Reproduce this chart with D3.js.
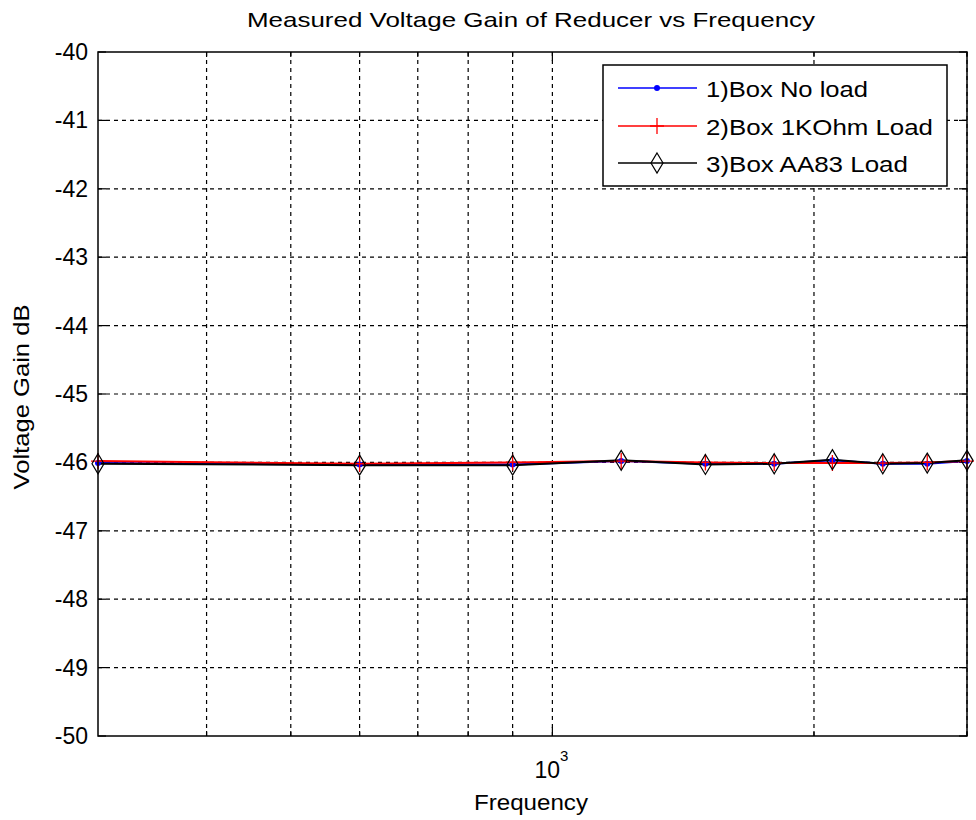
<!DOCTYPE html>
<html><head><meta charset="utf-8">
<script src="https://cdn.jsdelivr.net/npm/d3@7"></script>
<style>body{margin:0;background:#fff}svg{display:block}text{font-family:"Liberation Sans",Arial,sans-serif;fill:#000}</style>
</head><body><svg id="c" width="976" height="820"></svg>
<script>
const freqs = [300, 600, 900, 1200, 1500, 1800, 2100, 2400, 2700, 3000];
const noLoad = [-46.01, -46.03, -46.03, -45.98, -46.02, -46.02, -45.97, -46.02, -46.02, -45.98];
const kOhmLoad = [-45.98, -46.02, -46.00, -45.98, -46.00, -46.01, -46.01, -46.01, -46.00, -45.98];
const aa83Load = [-46.02, -46.04, -46.04, -45.97, -46.03, -46.02, -45.96, -46.02, -46.01, -45.97];
const seriesNames = ["1)Box No load", "2)Box 1KOhm Load", "3)Box AA83 Load"];
const seriesColors = ["#0000ff", "#ff0000", "#000000"];
const yTicks = [-50, -49, -48, -47, -46, -45, -44, -43, -42, -41, -40];
const xGridTicks = [400, 500, 600, 700, 800, 900, 1000, 2000, 3000];
const xMajor = [1000];

const svg = d3.select("#c");
const L = 98, R = 967, T = 52, B = 736;
const x = d3.scaleLog().domain([300, 3000]).range([L, R]);
const y = d3.scaleLinear().domain([-50, -40]).range([B, T]);

// grid
const g = svg.append("g");
g.selectAll(".vg").data(xGridTicks).join("line")
  .attr("x1", d => x(d)).attr("x2", d => x(d)).attr("y1", T).attr("y2", B)
  .attr("stroke", "#000").attr("stroke-width", 1.2).attr("stroke-dasharray", "4,4");
g.selectAll(".hg").data(yTicks.filter(d => d > -50 && d < -40)).join("line")
  .attr("x1", L).attr("x2", R).attr("y1", d => y(d)).attr("y2", d => y(d))
  .attr("stroke", "#000").attr("stroke-width", 1.2).attr("stroke-dasharray", "4,4");

// ticks
const tk = svg.append("g").attr("stroke", "#000").attr("stroke-width", 1.2);
yTicks.forEach(d => {
  tk.append("line").attr("x1", L).attr("x2", L + 8).attr("y1", y(d)).attr("y2", y(d));
  tk.append("line").attr("x1", R).attr("x2", R - 8).attr("y1", y(d)).attr("y2", y(d));
});
xGridTicks.forEach(d => {
  const len = xMajor.includes(d) ? 9 : 5;
  tk.append("line").attr("x1", x(d)).attr("x2", x(d)).attr("y1", B).attr("y2", B - len);
  tk.append("line").attr("x1", x(d)).attr("x2", x(d)).attr("y1", T).attr("y2", T + len);
});

// y axis labels
svg.append("g").selectAll("text").data(yTicks).join("text")
  .attr("x", L - 10).attr("y", d => y(d) + 8).attr("text-anchor", "end")
  .attr("font-size", 23).text(d => d);

// x tick label 10^3
const xl = svg.append("text").attr("x", x(1000) - 18).attr("y", 778).attr("font-size", 23);
xl.append("tspan").text("10");
xl.append("tspan").attr("dy", -17).attr("font-size", 15).text("3");

// series
const allSeries = [noLoad, kOhmLoad, aa83Load];
const line = d3.line().x((d, i) => x(freqs[i])).y(d => y(d));
const plot = svg.append("g");
allSeries.forEach((s, k) => {
  plot.append("path").attr("d", line(s)).attr("fill", "none")
    .attr("stroke", seriesColors[k]).attr("stroke-width", 2);
});
function marker(sel, k, cx, cy) {
  if (k === 0) {
    sel.append("circle").attr("cx", cx).attr("cy", cy).attr("r", 3).attr("fill", seriesColors[0]);
  } else if (k === 1) {
    sel.append("path").attr("d", `M${cx - 7},${cy}H${cx + 7}M${cx},${cy - 8}V${cy + 8}`)
      .attr("stroke", seriesColors[1]).attr("stroke-width", 1.3).attr("fill", "none");
  } else {
    sel.append("path").attr("d", `M${cx},${cy - 10}L${cx + 6},${cy}L${cx},${cy + 10}L${cx - 6},${cy}Z`)
      .attr("stroke", seriesColors[2]).attr("stroke-width", 1.2).attr("fill", "none");
  }
}
allSeries.forEach((s, k) => {
  s.forEach((v, i) => marker(plot, k, x(freqs[i]), y(v)));
});

// box
svg.append("rect").attr("x", L).attr("y", T).attr("width", R - L).attr("height", B - T)
  .attr("fill", "none").attr("stroke", "#000").attr("stroke-width", 1.5);

// legend
const lg = svg.append("g");
lg.append("rect").attr("x", 603).attr("y", 65).attr("width", 344).attr("height", 121)
  .attr("fill", "#fff").attr("stroke", "#000").attr("stroke-width", 1.5);
const legY = [88, 126, 163];
const legW = [162, 227, 202];
seriesNames.forEach((n, k) => {
  lg.append("line").attr("x1", 618).attr("x2", 697).attr("y1", legY[k]).attr("y2", legY[k])
    .attr("stroke", seriesColors[k]).attr("stroke-width", 1.5);
  marker(lg, k, 657, legY[k]);
  lg.append("text").attr("x", 706).attr("y", legY[k] + 9).attr("font-size", 22)
    .attr("textLength", legW[k]).attr("lengthAdjust", "spacingAndGlyphs").text(n);
});

// title and axis labels
svg.append("text").attr("x", 531).attr("y", 27).attr("text-anchor", "middle")
  .attr("font-size", 21).attr("textLength", 568).attr("lengthAdjust", "spacingAndGlyphs")
  .text("Measured Voltage Gain of Reducer vs Frequency");
svg.append("text").attr("x", 531).attr("y", 810).attr("text-anchor", "middle")
  .attr("font-size", 22).attr("textLength", 114).attr("lengthAdjust", "spacingAndGlyphs")
  .text("Frequency");
svg.append("text").attr("transform", "translate(29,397) rotate(-90)").attr("text-anchor", "middle")
  .attr("font-size", 22).attr("textLength", 185).attr("lengthAdjust", "spacingAndGlyphs")
  .text("Voltage Gain dB");
</script></body></html>
